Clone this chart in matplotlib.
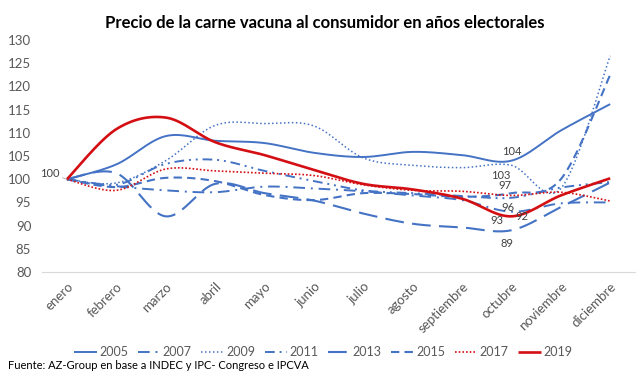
import numpy as np
import matplotlib
matplotlib.use("Agg")
import matplotlib.pyplot as plt

plt.rcParams['font.family'] = ['Lato', 'DejaVu Sans']

months = ["enero", "febrero", "marzo", "abril", "mayo", "junio", "julio",
          "agosto", "septiembre", "octubre", "noviembre", "diciembre"]

s2005 = [100, 103.2, 109.3, 108.3, 107.8, 105.7, 104.8, 105.9, 105.2, 104.0, 110.5, 116.2]
s2007 = [100, 98.5, 97.6, 97.2, 98.4, 98.0, 97.4, 96.5, 95.5, 93.0, 94.8, 95.0]
s2009 = [100, 99.2, 104.0, 111.6, 112.0, 111.5, 104.6, 103.0, 102.5, 103.0, 98.0, 126.6]
s2011 = [100, 98.8, 103.3, 104.2, 101.8, 99.6, 97.6, 97.0, 96.4, 96.0, 98.2, 99.4]
s2013 = [100, 101.3, 92.0, 99.0, 97.0, 95.4, 92.6, 90.4, 89.6, 89.0, 94.0, 99.3]
s2015 = [100, 98.3, 100.3, 99.6, 96.6, 95.5, 97.0, 96.8, 96.2, 97.0, 100.0, 122.5]
s2017 = [100, 97.6, 102.2, 101.8, 101.3, 100.8, 98.8, 97.6, 97.4, 96.5, 97.2, 95.3]
s2019 = [100, 110.8, 113.3, 108.0, 105.2, 102.0, 99.0, 97.8, 95.8, 92.0, 96.5, 100.2]

years = ["2005", "2007", "2009", "2011", "2013", "2015", "2017", "2019"]
series = [s2005, s2007, s2009, s2011, s2013, s2015, s2017, s2019]

# data labels shown near octubre
label_texts = ["104", "103", "97", "96", "93", "92", "89"]

blue = "#4472C4"
red = "#D40F14"
styles = [
    dict(color=blue, lw=1.4, ls="-"),
    dict(color=blue, lw=1.4, ls=(0, (6, 3, 1, 3))),
    dict(color=blue, lw=1.1, ls=(0, (1, 1.6))),
    dict(color=blue, lw=1.4, ls=(0, (5, 2.5, 1, 2.5, 1, 2.5))),
    dict(color=blue, lw=1.5, ls=(0, (9, 4))),
    dict(color=blue, lw=1.5, ls=(0, (4, 2.5))),
    dict(color=red, lw=1.2, ls=(0, (1, 1.2))),
    dict(color=red, lw=1.9, ls="-"),
]


def smooth(x, y, n=30):
    x = np.asarray(x, float)
    y = np.asarray(y, float)
    px = np.concatenate([[x[0]], x, [x[-1]]])
    py = np.concatenate([[y[0]], y, [y[-1]]])
    xs, ys = [], []
    t = np.linspace(0, 1, n, endpoint=False)
    for i in range(1, len(px) - 2):
        x0, x1, x2, x3 = px[i - 1:i + 3]
        y0, y1, y2, y3 = py[i - 1:i + 3]
        cx1, cy1 = x1 + (x2 - x0) / 6, y1 + (y2 - y0) / 6
        cx2, cy2 = x2 - (x3 - x1) / 6, y2 - (y3 - y1) / 6
        b0 = (1 - t) ** 3
        b1 = 3 * (1 - t) ** 2 * t
        b2 = 3 * (1 - t) * t ** 2
        b3 = t ** 3
        xs.append(b0 * x1 + b1 * cx1 + b2 * cx2 + b3 * x2)
        ys.append(b0 * y1 + b1 * cy1 + b2 * cy2 + b3 * y2)
    xs.append([x[-1]])
    ys.append([y[-1]])
    return np.concatenate(xs), np.concatenate(ys)


fig = plt.figure(figsize=(6.4, 3.82), dpi=100)
ax = fig.add_axes([0.066, 0.288, 0.926, 0.607])

x = np.arange(len(months))
handles = []
for yr, s, st in zip(years, series, styles):
    sx, sy = smooth(x, s)
    h, = ax.plot(sx, sy, label=yr, solid_capstyle="butt", dash_capstyle="butt", **st)
    handles.append(h)

ax.set_xlim(-0.5, 11.5)
ax.set_ylim(80, 130)
ax.set_yticks(np.arange(80, 131, 5))
ax.set_xticks(x)
ax.set_xticklabels(months, rotation=45, ha="right", va="top", rotation_mode="anchor")
ax.tick_params(axis="both", length=0, labelsize=9.5, colors="#595959")
ax.tick_params(axis="x", pad=6)
ax.tick_params(axis="y", pad=8)
for sp in ["top", "right", "left"]:
    ax.spines[sp].set_visible(False)
ax.spines["bottom"].set_color("#D9D9D9")

# data label placement (layout only)
label_pos = [(9.0, 106.0), (8.78, 100.9), (8.87, 98.7), (8.93, 94.0),
             (8.71, 91.2), (9.22, 92.0), (8.91, 86.2)]
for txt, (lx, ly) in zip(label_texts, label_pos):
    ax.text(lx, ly, txt, ha="center", va="center", fontsize=8, color="#404040")
ax.annotate("100", (0, s2005[0]), xytext=(-0.34, 101.3), textcoords="data",
            ha="center", va="center", fontsize=8, color="#404040",
            arrowprops=dict(arrowstyle="-", color="#A6A6A6", lw=0.6, shrinkA=5, shrinkB=0))

fig.text(0.508, 0.94, "Precio de la carne vacuna al consumidor en años electorales",
         ha="center", va="center", fontsize=12, fontweight="bold", color="black")

fig.legend(handles=handles, loc="center", bbox_to_anchor=(0.505, 0.078), ncol=8,
           frameon=False, fontsize=9, handlelength=1.8, handletextpad=0.2,
           columnspacing=0.75, labelcolor="#595959")

fig.text(0.012, 0.042, "Fuente: AZ-Group en base a INDEC y IPC- Congreso e IPCVA",
         ha="left", va="center", fontsize=8, color="black")

fig.savefig("out.png", dpi=100)
